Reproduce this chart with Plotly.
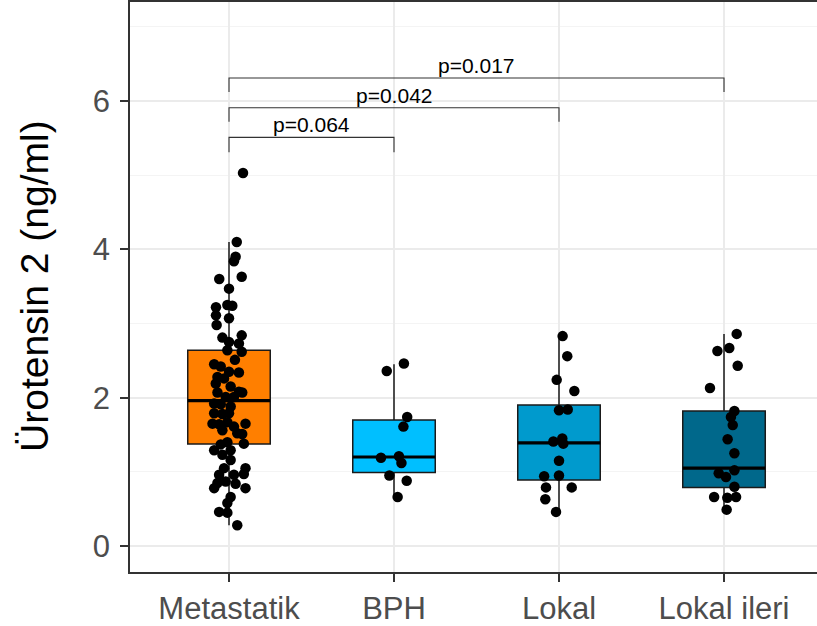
import plotly.graph_objects as go

# ---------------- data ----------------
categories = ["Metastatik", "BPH", "Lokal", "Lokal ileri"]
box_colors = ["#FF7F00", "#00BFFF", "#009ACD", "#00688B"]

q1 = [1.375, 0.99, 0.89, 0.79]
median = [1.96, 1.20, 1.39, 1.05]
q3 = [2.64, 1.70, 1.90, 1.82]
lower_whisker = [0.28, 0.65, 0.46, 0.49]
upper_whisker = [4.10, 2.45, 2.83, 2.86]

meta_y = [4.10, 3.90, 3.84, 3.60, 3.63, 3.47, 3.22, 3.25, 3.24, 3.11, 3.07, 2.98,
          2.81, 2.84, 2.75, 2.73, 2.64, 2.62, 2.51, 2.45, 2.42, 2.35, 2.34, 2.28,
          2.26, 2.19, 2.15, 2.08, 2.07, 2.07, 2.01, 2.01, 1.92, 1.91, 1.88, 1.79,
          1.78, 1.79, 1.65, 1.64, 1.67, 1.61, 1.65, 1.56, 1.52, 1.51, 1.38, 1.40,
          1.37, 1.29, 1.29, 1.23, 1.16, 1.05, 1.05, 0.96, 0.96, 0.97, 0.85, 0.87,
          0.84, 0.78, 0.78, 0.66, 0.58, 0.46, 0.45, 0.28, 5.03]
meta_jit = [0.047, 0.04, 0.03, -0.059, 0.077, 0.0, -0.079, -0.01, 0.02, -0.079, 0.0, -0.075,
            -0.04, 0.077, 0.0, 0.06, -0.01, 0.077, 0.036, -0.09, -0.05, 0.0, 0.06, -0.07,
            -0.03, -0.08, 0.01, 0.06, 0.08, -0.07, -0.02, 0.03, -0.09, -0.05, 0.01, -0.09,
            -0.04, 0.0, -0.1, -0.06, -0.01, 0.03, 0.1, -0.04, 0.05, 0.08, 0.09, -0.01,
            -0.05, -0.09, 0.01, -0.04, 0.01, -0.03, 0.1, -0.06, 0.03, 0.09, -0.07, -0.02,
            0.04, -0.09, 0.1, 0.01, -0.01, -0.06, -0.01, 0.05, 0.085]

bph_y = [2.46, 2.36, 1.74, 1.61, 1.19, 1.21, 1.12, 0.95, 0.88, 0.66]
bph_jit = [0.06, -0.044, 0.08, 0.057, -0.079, 0.03, 0.045, -0.028, 0.077, 0.022]

lokal_y = [2.83, 2.56, 2.24, 2.09, 1.83, 1.84, 1.41, 1.45, 1.38, 1.15, 0.94, 0.95,
           0.79, 0.79, 0.63, 0.46]
lokal_jit = [0.022, 0.05, -0.014, 0.093, 0.0, 0.053, -0.034, 0.02, 0.026, 0.0, -0.09, 0.0,
             -0.079, 0.077, -0.083, -0.018]

ileri_y = [2.86, 2.63, 2.67, 2.43, 2.13, 1.82, 1.74, 1.63, 1.44, 1.25, 1.02, 0.98,
           0.93, 0.80, 0.66, 0.65, 0.66, 0.49]
ileri_jit = [0.077, -0.04, 0.032, 0.083, -0.085, 0.063, 0.042, 0.053, 0.022, 0.063, 0.063, -0.032,
             0.012, 0.063, -0.06, 0.02, 0.073, 0.016]

points_y = [meta_y, bph_y, lokal_y, ileri_y]
points_jit = [meta_jit, bph_jit, lokal_jit, ileri_jit]

# significance brackets: (group a, group b, bracket level, tip level, label)
brk_a = [0, 0, 0]
brk_b = [1, 2, 3]
brk_level = [5.51, 5.91, 6.31]
brk_tip = [5.31, 5.72, 6.12]
brk_label = ["p=0.064", "p=0.042", "p=0.017"]

y_title = "Ürotensin 2 (ng/ml)"

# ---------------- figure ----------------
FONT = "Liberation Sans, Arial, sans-serif"
BOX_W = 0.5
fig = go.Figure()

for i, cat in enumerate(categories):
    fig.add_trace(go.Box(
        x=[i], q1=[q1[i]], median=[median[i]], q3=[q3[i]],
        lowerfence=[lower_whisker[i]], upperfence=[upper_whisker[i]],
        width=BOX_W, whiskerwidth=0, boxpoints=False,
        fillcolor=box_colors[i], line=dict(color="#1a1a1a", width=1.5),
        showlegend=False, hoverinfo="skip",
    ))
    # thicker median line (as in ggplot)
    fig.add_trace(go.Scatter(
        x=[i - BOX_W / 2, i + BOX_W / 2], y=[median[i], median[i]],
        mode="lines", line=dict(color="black", width=3.2),
        showlegend=False, hoverinfo="skip",
    ))

for i in range(len(categories)):
    fig.add_trace(go.Scatter(
        x=[i + j for j in points_jit[i]], y=points_y[i],
        mode="markers", marker=dict(color="black", size=10.5),
        showlegend=False, hoverinfo="skip",
    ))

for a, b, lv, tp, lab in zip(brk_a, brk_b, brk_level, brk_tip, brk_label):
    fig.add_trace(go.Scatter(
        x=[a, a, b, b], y=[tp, lv, lv, tp], mode="lines",
        line=dict(color="#333333", width=1.1),
        showlegend=False, hoverinfo="skip",
    ))
    fig.add_annotation(
        x=(a + b) / 2, y=lv, text=lab, showarrow=False,
        xanchor="center", yanchor="bottom", yshift=-1,
        font=dict(family=FONT, size=21, color="black"),
    )

fig.add_annotation(
    xref="paper", yref="paper", x=-0.1383, y=0.5018,
    text=y_title, textangle=-90, showarrow=False,
    xanchor="center", yanchor="middle",
    font=dict(family=FONT, size=39, color="black"),
)

fig.update_layout(
    width=817, height=626,
    margin=dict(l=130, r=0, t=2, b=54),
    paper_bgcolor="white", plot_bgcolor="white",
    boxmode="overlay",
    font=dict(family=FONT),
)

fig.update_xaxes(
    range=[-0.6, 3.5636],
    tickmode="array", tickvals=list(range(len(categories))), ticktext=categories,
    showgrid=True, gridcolor="#EBEBEB", gridwidth=1.5,
    zeroline=False,
    showline=True, linecolor="#333333", linewidth=1.5, mirror=True,
    ticks="outside", ticklen=8, tickwidth=1.5, tickcolor="#333333",
    tickfont=dict(family=FONT, size=31, color="#4D4D4D"),
)
fig.update_yaxes(
    range=[-0.3505, 7.335],
    tickmode="array", tickvals=[0, 2, 4, 6],
    showgrid=True, gridcolor="#EBEBEB", gridwidth=1.5,
    minor=dict(tickvals=[1, 3, 5, 7], showgrid=True, gridcolor="#F4F4F4", gridwidth=0.8, ticks=""),
    zeroline=False,
    showline=True, linecolor="#333333", linewidth=1.5, mirror=False,
    ticks="outside", ticklen=8, tickwidth=1.5, tickcolor="#333333",
    ticklabelstandoff=4,
    tickfont=dict(family=FONT, size=31, color="#4D4D4D"),
)

fig.write_html("out.html")
